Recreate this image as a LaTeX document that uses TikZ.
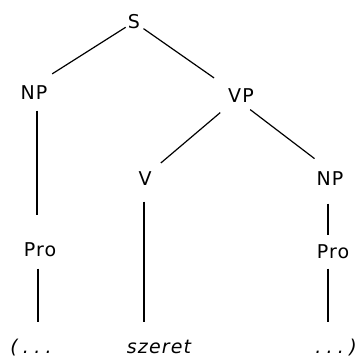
\documentclass[tikz,border=0pt]{standalone}
\usepackage{fontspec}
\setmainfont{DejaVu Sans}[LetterSpace=6]
\usetikzlibrary{calc,positioning}

\begin{document}
\begin{tikzpicture}[
  x=1pt, y=1pt,
  line width=1.2pt,
  cat/.style={
    inner sep=0pt,
    text height=14pt,
    text depth=0pt,
    font=\fontsize{19}{21}\selectfont
    },
  word/.style={
    cat,
    font=\fontsize{19}{21}\selectfont\itshape
    }
]
\useasboundingbox (0,0) rectangle (363,362);

% categories
\node[cat] (S)   at (134,340) {S};
\node[cat] (NP1) at (34,269)  {NP};
\node[cat] (VP)  at (241,267) {VP};
\node[cat] (V)   at (145,184) {V};
\node[cat] (NP2) at (330,184) {NP};
\node[cat] (Pro1) at (40,113) {Pro};
\node[cat] (Pro2) at (333,111) {Pro};

% words
\node[word] (L1) at (31,15.5)  {(\;.\;.\;.};
\node[word] (sz) at (159,15.5) {szeret};
\node[word] (R)  at (336,15.5) {.\;.\;.\;)};

% branches
\draw[shorten <=2pt, shorten >=21.5pt] (S) -- (NP1.north);
\draw[shorten <=3.5pt, shorten >=16.5pt] (S) -- (VP.north west);
\draw[shorten <=15.5pt, shorten >=11.5pt] (VP) -- (V.north east);
\draw[shorten <=11.5pt, shorten >=19.5pt] (VP.south) -- (NP2.north);

\foreach \Top/\Bot/\Dx/\Sa/\Sb in {NP1/Pro1/3/10/26, Pro1/L1/-2/12/17, V/sz/-1/16/16.5, NP2/Pro2/-2/18/8, Pro2/R/-5/10/16.5}
  \draw[shorten <=\Sa pt, shorten >=\Sb pt]
    ([xshift=\Dx pt]\Top.south) -- ([xshift=\Dx pt]\Top.south |- \Bot.north);
\end{tikzpicture}
\end{document}
